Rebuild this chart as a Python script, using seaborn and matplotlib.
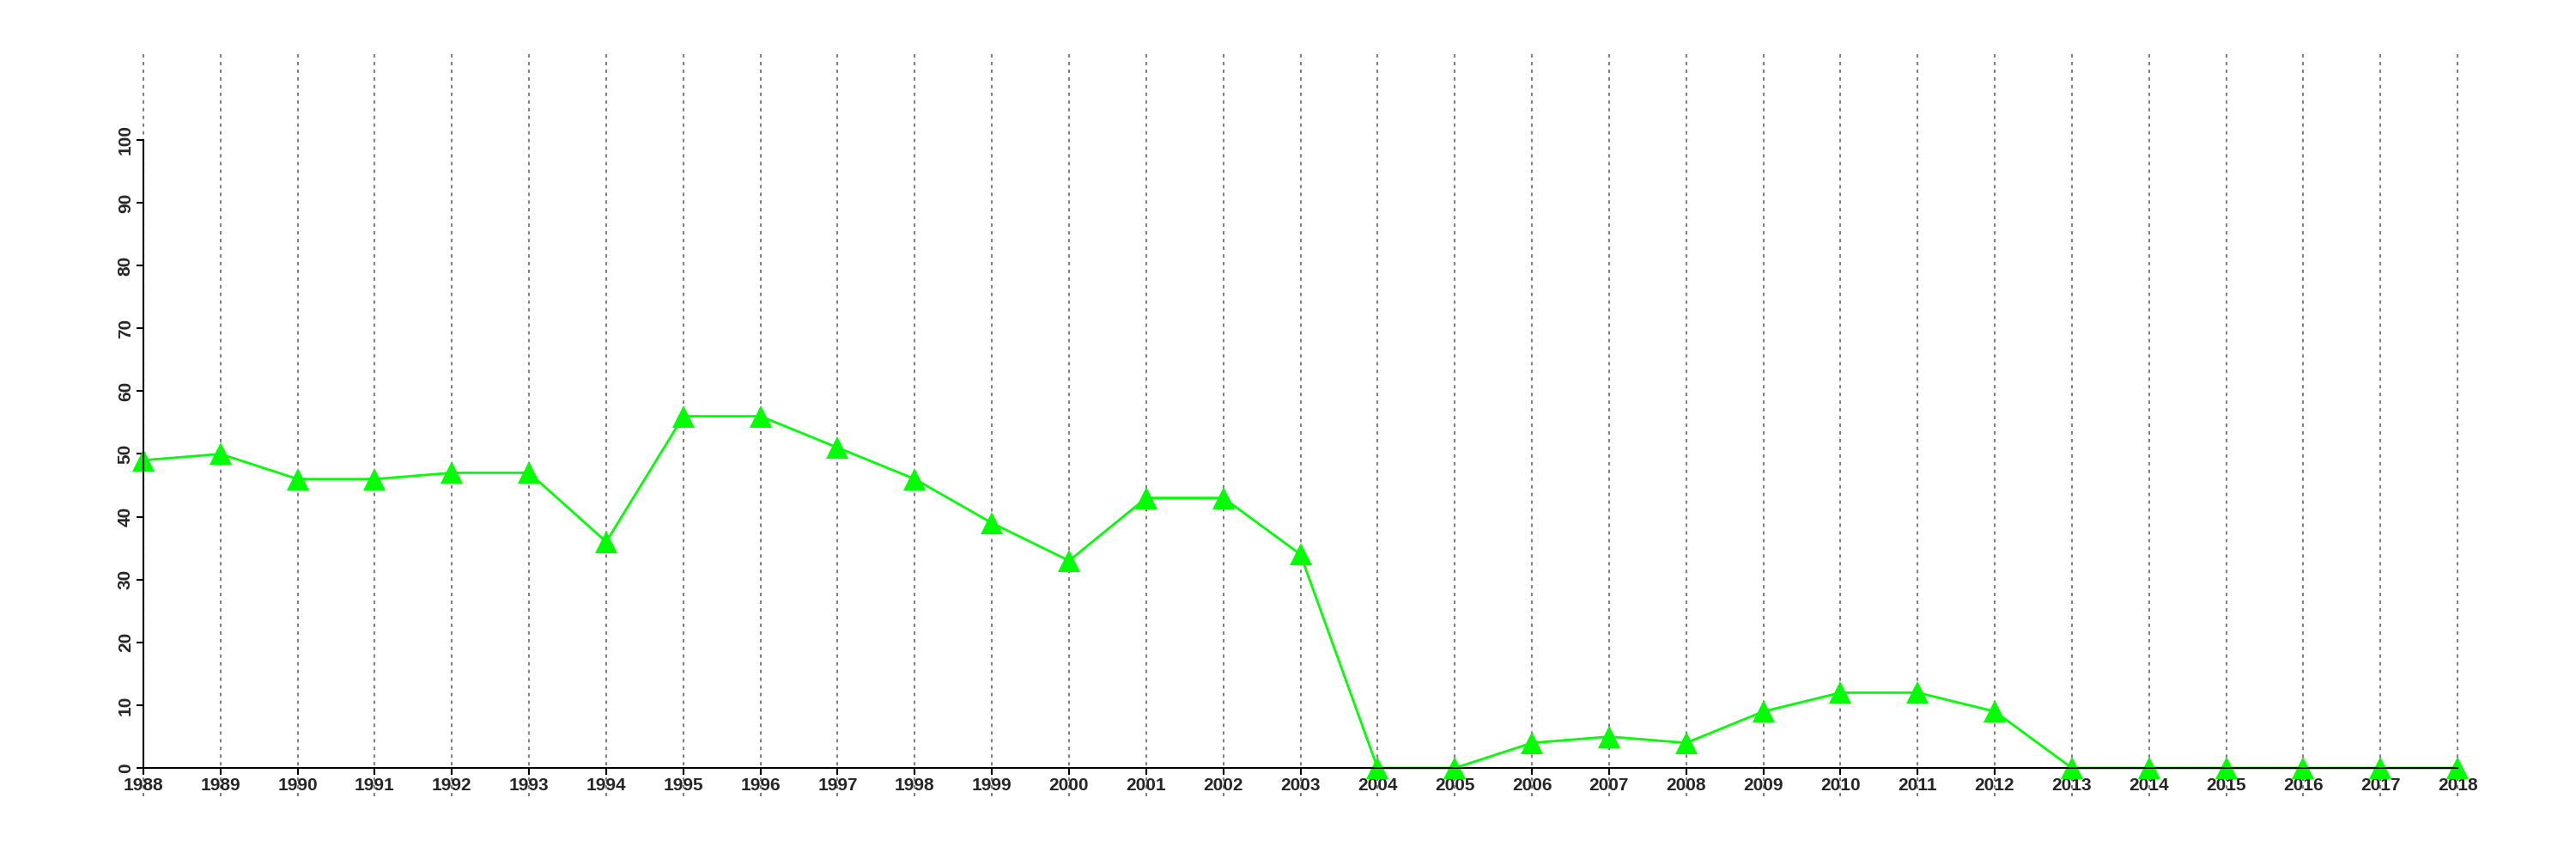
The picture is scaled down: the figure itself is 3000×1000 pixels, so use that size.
import matplotlib
matplotlib.use("Agg")
import matplotlib.pyplot as plt
import seaborn as sns
import pandas as pd

years = list(range(1988, 2019))
values = [49, 50, 46, 46, 47, 47, 36, 56, 56, 51, 46, 39, 33, 43, 43, 34,
          0, 0, 4, 5, 4, 9, 12, 12, 9, 0, 0, 0, 0, 0, 0]
y_ticks = [0, 10, 20, 30, 40, 50, 60, 70, 80, 90, 100]

sns.set_style("white")
plt.rcParams['font.family'] = ['Liberation Sans', 'DejaVu Sans']
plt.rcParams['font.weight'] = 'bold'

df = pd.DataFrame({"year": years, "value": values})

fig = plt.figure(figsize=(30, 10), dpi=100)
ax = fig.add_axes([122/3000, 0.073, (2907-122)/3000, 0.941-0.073])

for yr in years:
    ax.axvline(yr, color='#808080', linewidth=1.5, linestyle=(0, (1.9, 2.4)), zorder=0)

sns.lineplot(data=df, x="year", y="value", ax=ax, color='#00ff00', linewidth=2,
             marker='^', markersize=19, markeredgecolor='#00ff00', markeredgewidth=0,
             zorder=3, clip_on=False)

ax.set_xlim(1987.5, 2018.5)
ax.set_ylim(-4.5, 114.2)
ax.set_xlabel("")
ax.set_ylabel("")

for s in ['top', 'right']:
    ax.spines[s].set_visible(False)
ax.spines['left'].set_position(('data', 1988))
ax.spines['bottom'].set_position(('data', 0))
ax.spines['left'].set_bounds(0, 100)
ax.spines['bottom'].set_bounds(1988, 2018)
for s in ['left', 'bottom']:
    ax.spines[s].set_linewidth(1.5)
    ax.spines[s].set_color('black')
    ax.spines[s].set_zorder(4)

ax.set_xticks(years)
ax.set_xticklabels([str(y) for y in years], fontsize=15, fontweight='bold')
ax.set_yticks(y_ticks)
ax.set_yticklabels([str(v) for v in y_ticks], fontsize=15, fontweight='bold',
                   rotation=90, va='center')
ax.tick_params(axis='both', direction='out', length=6, width=1.5, color='black', pad=2,
               left=True, bottom=True, labelsize=15)

fig.savefig("out.png", dpi=100, facecolor='white')
